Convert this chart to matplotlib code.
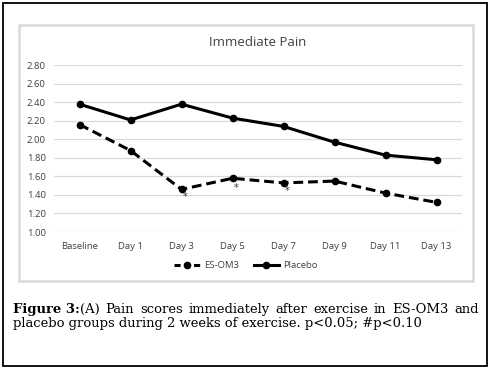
import matplotlib
matplotlib.use("Agg")
import matplotlib.pyplot as plt
from matplotlib.patches import Rectangle
from matplotlib.lines import Line2D

categories = ["Baseline", "Day 1", "Day 3", "Day 5", "Day 7", "Day 9", "Day 11", "Day 13"]
es_om3 = [2.16, 1.88, 1.46, 1.58, 1.53, 1.55, 1.42, 1.32]
placebo = [2.38, 2.21, 2.38, 2.23, 2.14, 1.97, 1.83, 1.78]
star_idx = [2, 3, 4]
star_y = [1.38, 1.47, 1.44]
yticks = [1.00, 1.20, 1.40, 1.60, 1.80, 2.00, 2.20, 2.40, 2.60, 2.80]
title = "Immediate Pain"
caption_bold = "Figure 3:"
caption_line1 = "(A) Pain scores immediately after exercise in ES-OM3 and"
caption_line2 = "placebo groups during 2 weeks of exercise. p<0.05; #p<0.10"

W, H = 498, 372
fig = plt.figure(figsize=(W / 100, H / 100), dpi=100)
fig.patch.set_facecolor("white")

def fx(px):
    return px / W

def fy(py):
    return 1 - py / H

DASH = (0, (3.2, 1.6))

# outer black frame
fig.add_artist(Rectangle((fx(3), fy(366)), fx(484), 363 / H, transform=fig.transFigure,
                         fill=False, edgecolor="black", linewidth=1.3))
# chart grey frame
fig.add_artist(Rectangle((fx(19), fy(281)), fx(454), 256 / H, transform=fig.transFigure,
                         fill=False, edgecolor="#d9d9d9", linewidth=1.8))

ax = fig.add_axes([fx(54), fy(232), fx(408), (232 - 65.3) / H])
x = list(range(len(categories)))
ax.plot(x, es_om3, color="black", linewidth=2.2, linestyle=DASH,
        marker="o", markersize=4.5, label="ES-OM3")
ax.plot(x, placebo, color="black", linewidth=2.2, marker="o", markersize=4.5, label="Placebo")
for i, yv in zip(star_idx, star_y):
    ax.text(i + 0.07, yv, "*", ha="center", va="center", fontsize=7, color="#333333",
            family="DejaVu Sans")

ax.set_xlim(-0.5, len(categories) - 0.5)
ax.set_ylim(1.0, 2.8)
ax.set_yticks(yticks)
ax.set_yticklabels([f"{v:.2f}" for v in yticks], fontsize=6.8, color="#404040",
                   family="Open Sans")
ax.set_xticks(x)
ax.set_xticklabels(categories, fontsize=6.8, color="#404040", family="Open Sans")
ax.tick_params(length=0, pad=7)
ax.tick_params(axis="y", pad=6)
ax.grid(axis="y", color="#d9d9d9", linewidth=0.9)
ax.set_axisbelow(True)
for s in ax.spines.values():
    s.set_visible(False)

fig.text(fx(258), fy(43), title, ha="center", va="center", fontsize=9.5, color="#404040",
         family="Open Sans")

leg = fig.legend(handles=[
    Line2D([], [], color="black", linewidth=2.2, linestyle=(0, (2.0, 1.2)), marker="o", markersize=4.5),
    Line2D([], [], color="black", linewidth=2.2, marker="o", markersize=4.5)],
    labels=["ES-OM3", "Placebo"], loc="center", bbox_to_anchor=(fx(246), fy(266)),
    ncol=2, frameon=False, handlelength=2.7, columnspacing=1.6, handletextpad=0.4,
    prop={"family": "Open Sans", "size": 6.8})
for t in leg.get_texts():
    t.set_color("#404040")

# caption
fig.canvas.draw()
renderer = fig.canvas.get_renderer()
fam = "DejaVu Serif"

def width_px(s, fs, weight="normal"):
    t = fig.text(0, 0, s, fontsize=fs, family=fam, weight=weight)
    w = t.get_window_extent(renderer).width
    t.remove()
    return w

left, right, right2 = 13, 479, 413
fs_a = 10 * (right2 - left) / width_px(caption_line2, 10)
natural1 = width_px(caption_bold, 10, "bold") + width_px(caption_line1, 10)
fs_b = 10 * (right - left) / natural1
fs = (fs_a + fs_b) / 2
y1, y2 = fy(313), fy(327)

words = caption_line1.split(" ")
bold_w = width_px(caption_bold, fs, "bold")
wws = [width_px(w, fs) for w in words]
total = bold_w + sum(wws)
gap = (right - left - total) / (len(words) - 1)
fig.text(fx(left), y1, caption_bold, fontsize=fs, family=fam, weight="bold", va="baseline")
xpos = left + bold_w
for w, ww in zip(words, wws):
    fig.text(fx(xpos), y1, w, fontsize=fs, family=fam, va="baseline")
    xpos += ww + gap
fig.text(fx(left), y2, caption_line2, fontsize=fs, family=fam, va="baseline")

fig.savefig("out.png", dpi=100)
